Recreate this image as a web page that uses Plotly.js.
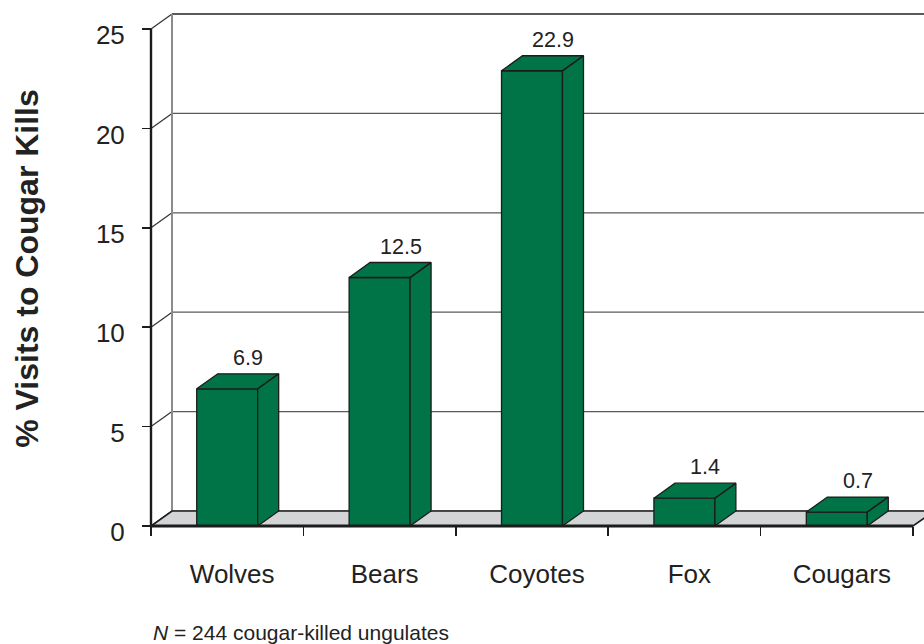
<!DOCTYPE html>
<html>
<head>
<meta charset="utf-8">
<script src="https://cdn.plot.ly/plotly-3.0.1.min.js"></script>
<style>
  html, body { margin: 0; padding: 0; background: #fff; }
  #chart { width: 924px; height: 644px; }
</style>
</head>
<body>
<div id="chart"></div>
<script>
// Share of cougar kills visited by each carnivore species (%)
const categories = ['Wolves', 'Bears', 'Coyotes', 'Fox', 'Cougars'];
const visitPct = [6.9, 12.5, 22.9, 1.4, 0.7];
const yTickVals = [0, 5, 10, 15, 20, 25];
const yTitle = '% Visits to Cougar Kills';
const footnote = '<i>N</i> = 244 cougar-killed ungulates';

// ---- geometry of the pseudo-3-D frame (pixels -> axis units) ----
const W = 924, H = 644;
const PX_X = 152.4;          // pixels per category slot
const PX_Y = 19.88;          // pixels per percentage point
const ORIGIN_X = 151, ORIGIN_Y = 526;
const M = { l: 149, r: 0, t: 8, b: 115 };
const xMin = -(ORIGIN_X - M.l) / PX_X;
const xMax = (W - M.r - ORIGIN_X) / PX_X;
const yMin = -(H - M.b - ORIGIN_Y) / PX_Y;
const yMax = (ORIGIN_Y - M.t) / PX_Y;
const DX = 21 / PX_X;        // depth offset, horizontal
const DY = 15 / PX_Y;        // depth offset, vertical
const BAR_W = 0.4;
const LABEL_DX = 5 / PX_X;
const Y_TOP = yTickVals[yTickVals.length - 1];
const nCat = categories.length;
const centers = categories.map((_, i) => i + 0.5);
const slotEdges = categories.map((_, i) => i).concat([nCat]);

const GREEN = '#007347';
const EDGE = '#1c1c1c';
const FLOOR = '#d3d4d6';
const FONT = 'Liberation Sans, Arial, Helvetica, sans-serif';
const INK = '#222222';

// ---- walls and floor (drawn beneath the bars) ----
const shapes = [];
yTickVals.forEach(v => {
  // gridline on the back wall
  shapes.push({
    type: 'line', xref: 'x', yref: 'y', layer: 'below',
    x0: DX, x1: xMax + 1, y0: v + DY, y1: v + DY,
    line: { color: v === Y_TOP ? '#222' : '#5a5a5a', width: v === Y_TOP ? 1.6 : 1.2 }
  });
  // gridline on the left side wall
  shapes.push({
    type: 'line', xref: 'x', yref: 'y', layer: 'below',
    x0: 0, y0: v, x1: DX, y1: v + DY,
    line: { color: '#333', width: 1.2 }
  });
});
// back wall left edge
shapes.push({
  type: 'line', xref: 'x', yref: 'y', layer: 'below',
  x0: DX, x1: DX, y0: DY, y1: Y_TOP + DY,
  line: { color: '#8c8c8c', width: 2 }
});
// floor slab
shapes.push({
  type: 'path', xref: 'x', yref: 'y', layer: 'below',
  path: `M 0 0 L ${nCat} 0 L ${nCat + DX} ${DY} L ${DX} ${DY} Z`,
  fillcolor: FLOOR,
  line: { color: EDGE, width: 1.6 }
});
// front edge of the floor and the value axis line
shapes.push({
  type: 'line', xref: 'x', yref: 'y', layer: 'above',
  x0: 0, x1: nCat, y0: 0, y1: 0,
  line: { color: EDGE, width: 3 }
});
shapes.push({
  type: 'line', xref: 'x', yref: 'y', layer: 'above',
  x0: 0, x1: 0, y0: 0, y1: Y_TOP,
  line: { color: EDGE, width: 2.4 }
});

// ---- bars: front faces as a bar trace, tops and sides as filled polygons ----
const faceX = [], faceY = [];
visitPct.forEach((v, i) => {
  const xl = centers[i] - BAR_W / 2, xr = centers[i] + BAR_W / 2;
  faceX.push(xl, xl + DX, xr + DX, xr, xl, null);
  faceY.push(v, v + DY, v + DY, v, v, null);
  faceX.push(xr, xr + DX, xr + DX, xr, xr, null);
  faceY.push(v, v + DY, DY, 0, v, null);
});

const traces = [
  {
    type: 'bar', x: centers, y: visitPct, width: BAR_W,
    marker: { color: GREEN, line: { color: EDGE, width: 1.3 } },
    hoverinfo: 'skip'
  },
  {
    type: 'scatter', mode: 'lines', x: faceX, y: faceY,
    fill: 'toself', fillcolor: GREEN,
    line: { color: EDGE, width: 1.3 },
    hoverinfo: 'skip'
  }
];

// value labels above each bar
const valueLabels = visitPct.map((v, i) => ({
  xref: 'x', yref: 'y', x: centers[i] + DX, y: v + DY,
  text: v.toFixed(1), showarrow: false,
  xanchor: 'center', yanchor: 'bottom', yshift: 2,
  font: { family: FONT, size: 21.5, color: INK }
}));

const noteY = (H - M.b - H) / (H - M.t - M.b);

const layout = {
  width: W, height: H,
  margin: M,
  paper_bgcolor: '#ffffff',
  plot_bgcolor: '#ffffff',
  showlegend: false,
  bargap: 0,
  font: { family: FONT, color: INK },
  xaxis: {
    type: 'linear',
    range: [xMin, xMax],
    anchor: 'free',
    position: (0 - yMin) / (yMax - yMin),
    tickmode: 'array',
    tickvals: centers.map(c => c + LABEL_DX),
    ticktext: categories,
    ticks: '',
    ticklabelstandoff: 30,
    tickfont: { family: FONT, size: 26, color: INK },
    minor: {
      tickmode: 'array', tickvals: slotEdges,
      ticks: 'outside', ticklen: 9, tickwidth: 1.5, tickcolor: EDGE,
      showgrid: false
    },
    showline: false, showgrid: false, zeroline: false,
    fixedrange: true
  },
  yaxis: {
    range: [yMin, yMax],
    anchor: 'free',
    position: (0 - xMin) / (xMax - xMin),
    tickmode: 'array',
    tickvals: yTickVals,
    ticks: 'outside', ticklen: 9, tickwidth: 1.5, tickcolor: EDGE,
    ticklabelstandoff: 12,
    ticklabelshift: 6,
    tickfont: { family: FONT, size: 26, color: INK },
    showline: false, showgrid: false, zeroline: false,
    title: {
      text: yTitle,
      standoff: 46,
      font: { family: FONT, size: 32, color: INK, weight: 700 }
    },
    fixedrange: true
  },
  shapes: shapes,
  annotations: valueLabels.concat([{
    xref: 'x', yref: 'paper', x: 0, y: noteY,
    xanchor: 'left', yanchor: 'bottom', yshift: -2,
    text: footnote, showarrow: false,
    font: { family: FONT, size: 21, color: INK }
  }])
};

Plotly.newPlot('chart', traces, layout, { staticPlot: true, displayModeBar: false });
</script>
</body>
</html>
